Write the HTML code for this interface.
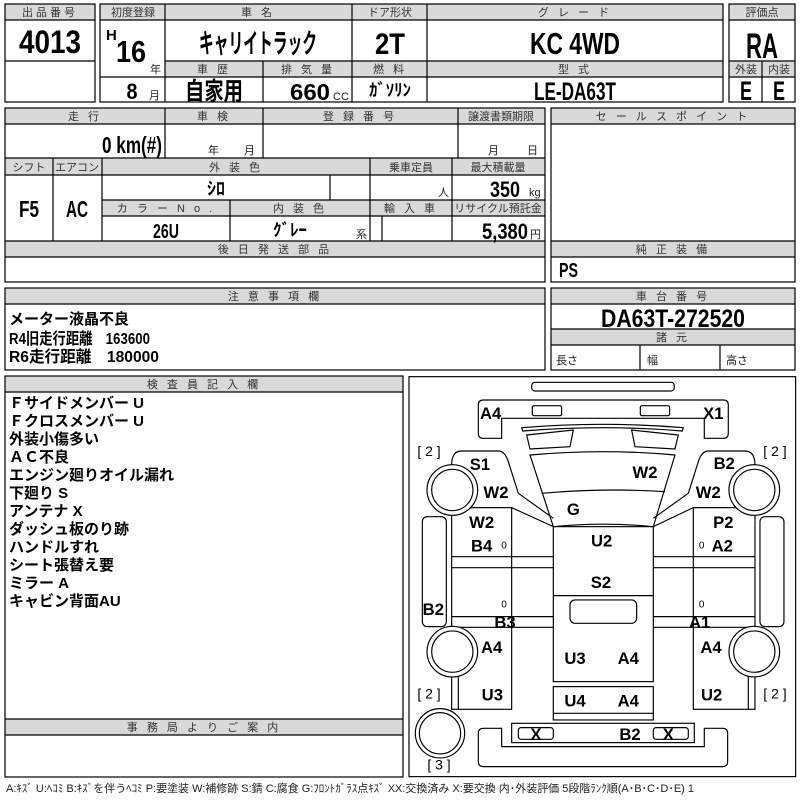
<!DOCTYPE html>
<html><head><meta charset="utf-8"><style>
html,body{margin:0;padding:0;background:#fff;}
svg{display:block}
.h{font-family:"Liberation Sans","Noto Sans CJK JP",sans-serif;font-size:11px;fill:#333;text-anchor:middle;letter-spacing:3px}
.v{font-family:"Liberation Sans","Noto Sans CJK JP",sans-serif;font-weight:bold;fill:#000;text-anchor:middle}
.st{text-anchor:start}
.en{text-anchor:end}
.t{font-family:"Liberation Sans","Noto Sans CJK JP",sans-serif;font-weight:bold;fill:#000;font-size:15px}
.s{font-family:"Liberation Sans","Noto Sans CJK JP",sans-serif;font-size:11px;fill:#222}
.g{fill:#d9d9d9}
.d text{font-family:"Liberation Sans","Noto Sans CJK JP",sans-serif;font-weight:bold;font-size:50px;text-anchor:middle;dominant-baseline:central}
.d text.b{font-weight:normal;font-size:42px}
.d text.z{font-weight:normal;font-size:30px}
</style></head><body>
<svg width="800" height="800" viewBox="0 0 800 800" xmlns="http://www.w3.org/2000/svg">
<g stroke="#000" stroke-width="1.2" fill="none">
<rect class="g" x="5" y="4" width="90" height="16" stroke="none"/>
<rect x="5" y="4" width="90" height="98"/>
<line x1="5" y1="20" x2="95" y2="20"/><line x1="5" y1="61" x2="95" y2="61"/>
<rect class="g" x="100" y="4" width="623" height="16" stroke="none"/>
<rect class="g" x="165" y="61" width="558" height="16" stroke="none"/>
<rect x="100" y="4" width="623" height="98"/>
<line x1="100" y1="20" x2="723" y2="20"/>
<line x1="165" y1="61" x2="723" y2="61"/>
<line x1="100" y1="77" x2="723" y2="77"/>
<line x1="165" y1="4" x2="165" y2="102"/>
<line x1="352" y1="4" x2="352" y2="102"/>
<line x1="427" y1="4" x2="427" y2="102"/>
<line x1="263" y1="61" x2="263" y2="102"/>
<rect class="g" x="729" y="4" width="66" height="16" stroke="none"/>
<rect class="g" x="729" y="61" width="66" height="16" stroke="none"/>
<rect x="729" y="4" width="66" height="98"/>
<line x1="729" y1="20" x2="795" y2="20"/><line x1="729" y1="61" x2="795" y2="61"/><line x1="729" y1="77" x2="795" y2="77"/>
<line x1="762" y1="61" x2="762" y2="102"/>

<rect class="g" x="5" y="108" width="540" height="16" stroke="none"/>
<rect class="g" x="5" y="158" width="540" height="17" stroke="none"/>
<rect class="g" x="102" y="200" width="443" height="16" stroke="none"/>
<rect class="g" x="5" y="241" width="540" height="16" stroke="none"/>
<rect x="5" y="108" width="540" height="174"/>
<line x1="5" y1="124" x2="545" y2="124"/>
<line x1="5" y1="158" x2="545" y2="158"/>
<line x1="5" y1="175" x2="545" y2="175"/>
<line x1="102" y1="200" x2="545" y2="200"/>
<line x1="102" y1="216" x2="545" y2="216"/>
<line x1="5" y1="241" x2="545" y2="241"/>
<line x1="5" y1="257" x2="545" y2="257"/>
<line x1="165" y1="108" x2="165" y2="158"/>
<line x1="263" y1="108" x2="263" y2="158"/>
<line x1="458" y1="108" x2="458" y2="158"/>
<line x1="53" y1="158" x2="53" y2="241"/>
<line x1="102" y1="158" x2="102" y2="241"/>
<line x1="370" y1="158" x2="370" y2="241"/>
<line x1="452" y1="158" x2="452" y2="241"/>
<line x1="330" y1="175" x2="330" y2="200"/>
<line x1="230" y1="200" x2="230" y2="241"/>
<line x1="382" y1="216" x2="382" y2="241"/>
<rect class="g" x="551" y="108" width="244" height="16" stroke="none"/>
<rect class="g" x="551" y="241" width="244" height="16" stroke="none"/>
<rect x="551" y="108" width="244" height="174"/>
<line x1="551" y1="124" x2="795" y2="124"/>
<line x1="551" y1="241" x2="795" y2="241"/>
<line x1="551" y1="257" x2="795" y2="257"/>

<rect class="g" x="5" y="288" width="540" height="16" stroke="none"/>
<rect x="5" y="288" width="540" height="82"/>
<line x1="5" y1="304" x2="545" y2="304"/>
<rect class="g" x="551" y="288" width="244" height="16" stroke="none"/>
<rect class="g" x="551" y="329" width="244" height="16" stroke="none"/>
<rect x="551" y="288" width="244" height="82"/>
<line x1="551" y1="304" x2="795" y2="304"/>
<line x1="551" y1="329" x2="795" y2="329"/>
<line x1="551" y1="345" x2="795" y2="345"/>
<line x1="640" y1="345" x2="640" y2="370"/>
<line x1="720" y1="345" x2="720" y2="370"/>

<rect class="g" x="5" y="376" width="398" height="16" stroke="none"/>
<rect class="g" x="5" y="719" width="398" height="16" stroke="none"/>
<rect x="5" y="376" width="398" height="401"/>
<line x1="5" y1="392" x2="403" y2="392"/>
<line x1="5" y1="719" x2="403" y2="719"/>
<line x1="5" y1="735" x2="403" y2="735"/>
</g>

<text class="h" x="50" y="16">出品番号</text>
<text class="h" x="133" y="16" style="letter-spacing:0">初度登録</text>
<text class="h" x="258" y="16">車 名</text>
<text class="h" x="390" y="16" style="letter-spacing:0">ドア形状</text>
<text class="h" x="575" y="16">グ レ ー ド</text>
<text class="h" x="762" y="16" style="letter-spacing:0">評価点</text>
<text class="h" x="214" y="73">車 歴</text>
<text class="h" x="308" y="73">排 気 量</text>
<text class="h" x="390" y="73">燃 料</text>
<text class="h" x="575" y="73">型 式</text>
<text class="h" x="746" y="73" style="letter-spacing:0">外装</text>
<text class="h" x="779" y="73" style="letter-spacing:0">内装</text>

<text class="v" x="50" y="53" font-size="32" textLength="62" lengthAdjust="spacingAndGlyphs">4013</text>
<text class="v st" x="106" y="40" font-size="15">H</text>
<text class="v" x="131" y="62" font-size="31" textLength="30" lengthAdjust="spacingAndGlyphs">16</text>
<text class="s" x="150" y="73">年</text>
<text class="v" x="132" y="99" font-size="22" textLength="11" lengthAdjust="spacingAndGlyphs">8</text>
<text class="s" x="149" y="99">月</text>
<text class="v" x="258" y="53" font-size="27" textLength="118" lengthAdjust="spacingAndGlyphs">キャリイトラック</text>
<text class="v" x="390" y="54" font-size="30" textLength="30" lengthAdjust="spacingAndGlyphs">2T</text>
<text class="v" x="575" y="54" font-size="31" textLength="90" lengthAdjust="spacingAndGlyphs">KC  4WD</text>
<text class="v" x="762" y="58" font-size="35" textLength="32" lengthAdjust="spacingAndGlyphs">RA</text>
<text class="v" x="214" y="100" font-size="25" textLength="58" lengthAdjust="spacingAndGlyphs">自家用</text>
<text class="v" x="310" y="100" font-size="23" textLength="40" lengthAdjust="spacingAndGlyphs">660</text>
<text class="s" x="333" y="100" font-size="10">CC</text>
<text class="v" x="390" y="96" font-size="17" textLength="42" lengthAdjust="spacingAndGlyphs">ｶﾞｿﾘﾝ</text>
<text class="v" x="575" y="100" font-size="25" textLength="82" lengthAdjust="spacingAndGlyphs">LE-DA63T</text>
<text class="v" x="746" y="100" font-size="27" textLength="12" lengthAdjust="spacingAndGlyphs">E</text>
<text class="v" x="779" y="100" font-size="27" textLength="12" lengthAdjust="spacingAndGlyphs">E</text>

<text class="h" x="85" y="120">走 行</text>
<text class="h" x="214" y="120">車 検</text>
<text class="h" x="360" y="120">登 録 番 号</text>
<text class="h" x="501" y="120" style="letter-spacing:0">譲渡書類期限</text>
<text class="v en" x="162" y="153" font-size="23" textLength="60" lengthAdjust="spacingAndGlyphs">0 km(#)</text>
<text class="s" x="208" y="154">年</text>
<text class="s" x="244" y="154">月</text>
<text class="s" x="488" y="154">月</text>
<text class="s" x="527" y="154">日</text>
<text class="h" x="29" y="171" style="letter-spacing:0">シフト</text>
<text class="h" x="77" y="171" style="letter-spacing:0">エアコン</text>
<text class="h" x="236" y="171">外 装 色</text>
<text class="h" x="411" y="171" style="letter-spacing:0">乗車定員</text>
<text class="h" x="498" y="171" style="letter-spacing:0">最大積載量</text>
<text class="v" x="29" y="217" font-size="23" textLength="20" lengthAdjust="spacingAndGlyphs">F5</text>
<text class="v" x="77" y="217" font-size="23" textLength="22" lengthAdjust="spacingAndGlyphs">AC</text>
<text class="v" x="216" y="195" font-size="18">ｼﾛ</text>
<text class="s" x="438" y="196">人</text>
<text class="v en" x="520" y="197" font-size="22" textLength="30" lengthAdjust="spacingAndGlyphs">350</text>
<text class="s" x="529" y="196">kg</text>
<text class="h" x="166" y="212">カ ラ ー N o .</text>
<text class="h" x="300" y="212">内 装 色</text>
<text class="h" x="411" y="212">輸 入 車</text>
<text class="h" x="498" y="212" style="letter-spacing:0">リサイクル預託金</text>
<text class="v" x="166" y="238" font-size="20" textLength="26" lengthAdjust="spacingAndGlyphs">26U</text>
<text class="v" x="290" y="236" font-size="17">ｸﾞﾚｰ</text>
<text class="s" x="356" y="238">系</text>
<text class="v en" x="528" y="239" font-size="22" textLength="46" lengthAdjust="spacingAndGlyphs">5,380</text>
<text class="s" x="530" y="238">円</text>
<text class="h" x="275" y="253">後 日 発 送 部 品</text>
<text class="h" x="673" y="120">セ ー ル ス ポ イ ン ト</text>
<text class="h" x="673" y="253">純 正 装 備</text>
<text class="v st" x="559" y="277" font-size="20" textLength="19" lengthAdjust="spacingAndGlyphs">PS</text>

<text class="h" x="275" y="300">注 意 事 項 欄</text>
<text class="t" x="9" y="324" font-size="17">メーター液晶不良</text>
<text class="v st" x="9" y="344" font-size="16" textLength="141" lengthAdjust="spacingAndGlyphs">R4旧走行距離　163600</text>
<text class="v st" x="9" y="362" font-size="16" textLength="150" lengthAdjust="spacingAndGlyphs">R6走行距離　180000</text>
<text class="h" x="673" y="300">車 台 番 号</text>
<text class="v" x="673" y="327" font-size="25" textLength="144" lengthAdjust="spacingAndGlyphs">DA63T-272520</text>
<text class="h" x="673" y="341">諸 元</text>
<text class="s" x="556" y="364">長さ</text>
<text class="s" x="647" y="364">幅</text>
<text class="s" x="726" y="364">高さ</text>

<text class="h" x="204" y="388">検 査 員 記 入 欄</text>
<g class="t">
<text x="9" y="408">Ｆサイドメンバー U</text>
<text x="9" y="426">Ｆクロスメンバー U</text>
<text x="9" y="444">外装小傷多い</text>
<text x="9" y="462">ＡＣ不良</text>
<text x="9" y="480">エンジン廻りオイル漏れ</text>
<text x="9" y="498">下廻り S</text>
<text x="9" y="516">アンテナ X</text>
<text x="9" y="534">ダッシュ板のり跡</text>
<text x="9" y="552">ハンドルすれ</text>
<text x="9" y="570">シート張替え要</text>
<text x="9" y="588">ミラー A</text>
<text x="9" y="606">キャビン背面AU</text>
</g>
<text class="h" x="204" y="731">事 務 局 よ り ご 案 内</text>
<text class="s" x="6" y="792" font-size="9.5" textLength="688" lengthAdjust="spacingAndGlyphs">A:ｷｽﾞ U:ﾍｺﾐ B:ｷｽﾞを伴うﾍｺﾐ P:要塗装 W:補修跡 S:錆 C:腐食 G:ﾌﾛﾝﾄｶﾞﾗｽ点ｷｽﾞ XX:交換済み X:要交換  内･外装評価  5段階ﾗﾝｸ順(A･B･C･D･E) 1</text>

<g class="d" transform="translate(405,375) scale(0.3333)">
<g stroke="#000" stroke-width="3.5" fill="none">
<rect x="12" y="5" width="1160" height="1200"/>
<rect x="380" y="22" width="428" height="26" rx="10"/>
<path d="M235,75 H955 Q970,75 970,90 V175 Q970,190 955,190 H898 V130 H290 V190 H235 Q220,190 220,175 V90 Q220,75 235,75 Z"/>
<rect x="382" y="92" width="88" height="30" rx="5"/>
<rect x="706" y="92" width="88" height="30" rx="5"/>
<path d="M350,158 Q592,138 835,158 L832,168 Q592,148 353,168 Z"/>
<path d="M365,180 L505,165 L495,215 L375,222 Z"/>
<path d="M680,165 L820,180 L810,222 L690,215 Z"/>
<path d="M375,240 Q592,220 810,240 L745,455 Q595,440 445,455 Z"/>
<path d="M410,355 Q592,338 780,350"/>
<path d="M140,270 Q140,228 170,228 H280 Q300,228 310,260 L340,355 L445,430"/>
<path d="M1050,270 Q1050,228 1020,228 H910 Q890,228 880,260 L850,355 L745,430"/>
<path d="M320,398 L445,455 M865,398 L745,455"/>
<rect x="445" y="455" width="300" height="465"/>
<line x1="445" y1="662" x2="745" y2="662"/>
<rect x="495" y="675" width="200" height="70" rx="15"/>
<rect x="140" y="398" width="180" height="605"/>
<rect x="865" y="398" width="185" height="605"/>
<line x1="160" y1="760" x2="160" y2="1003"/>
<line x1="1030" y1="760" x2="1030" y2="1003"/>
<line x1="140" y1="545" x2="445" y2="545"/><line x1="140" y1="578" x2="445" y2="578"/>
<line x1="745" y1="545" x2="1050" y2="545"/><line x1="745" y1="578" x2="1050" y2="578"/>
<line x1="140" y1="725" x2="445" y2="725"/><line x1="140" y1="757" x2="445" y2="757"/>
<line x1="745" y1="725" x2="1050" y2="725"/><line x1="745" y1="757" x2="1050" y2="757"/>
<rect x="52" y="425" width="72" height="330" rx="15"/>
<rect x="1065" y="425" width="72" height="330" rx="15"/>
<rect x="445" y="935" width="300" height="100"/>
<line x1="445" y1="1015" x2="745" y2="1015"/>
<path d="M235,1060 H290 V1115 H898 V1060 H953 Q968,1060 968,1075 V1160 Q968,1175 953,1175 H235 Q220,1175 220,1160 V1075 Q220,1060 235,1060 Z"/>
<rect x="320" y="1045" width="548" height="58"/>
<rect x="340" y="1058" width="105" height="35" rx="8"/>
<rect x="745" y="1058" width="105" height="35" rx="8"/>
</g>
<g stroke="#000" stroke-width="3.5" fill="#fff">
<circle cx="142" cy="345" r="76"/><circle cx="142" cy="345" r="62"/>
<circle cx="1048" cy="345" r="76"/><circle cx="1048" cy="345" r="62"/>
<circle cx="142" cy="830" r="76"/><circle cx="142" cy="830" r="62"/>
<circle cx="1048" cy="830" r="76"/><circle cx="1048" cy="830" r="62"/>
<circle cx="105" cy="1075" r="74"/><circle cx="105" cy="1075" r="62"/>
</g>
<text x="257" y="115">A4</text><text x="925" y="115">X1</text>
<text class="b" x="72" y="228">[ 2 ]</text><text class="b" x="1110" y="228">[ 2 ]</text>
<text x="225" y="268">S1</text><text x="720" y="293">W2</text><text x="958" y="266">B2</text>
<text x="273" y="353">W2</text><text x="910" y="353">W2</text>
<text x="505" y="403">G</text>
<text x="230" y="443">W2</text><text x="955" y="443">P2</text>
<text x="230" y="513">B4</text><text class="z" x="297" y="513">0</text>
<text x="590" y="498">U2</text>
<text class="z" x="890" y="513">0</text><text x="952" y="513">A2</text>
<text x="588" y="623">S2</text>
<text x="85" y="703">B2</text>
<text class="z" x="297" y="690">0</text><text class="z" x="890" y="690">0</text>
<text x="300" y="743">B3</text><text x="884" y="743">A1</text>
<text x="260" y="818">A4</text><text x="918" y="818">A4</text>
<text x="510" y="850">U3</text><text x="670" y="850">A4</text>
<text class="b" x="72" y="956">[ 2 ]</text><text class="b" x="1110" y="956">[ 2 ]</text>
<text x="262" y="960">U3</text><text x="920" y="960">U2</text>
<text x="510" y="978">U4</text><text x="670" y="978">A4</text>
<text x="393" y="1078">X</text><text x="675" y="1078">B2</text><text x="790" y="1078">X</text>
<text class="b" x="102" y="1168">[ 3 ]</text>
</g>
</svg>
</body></html>
